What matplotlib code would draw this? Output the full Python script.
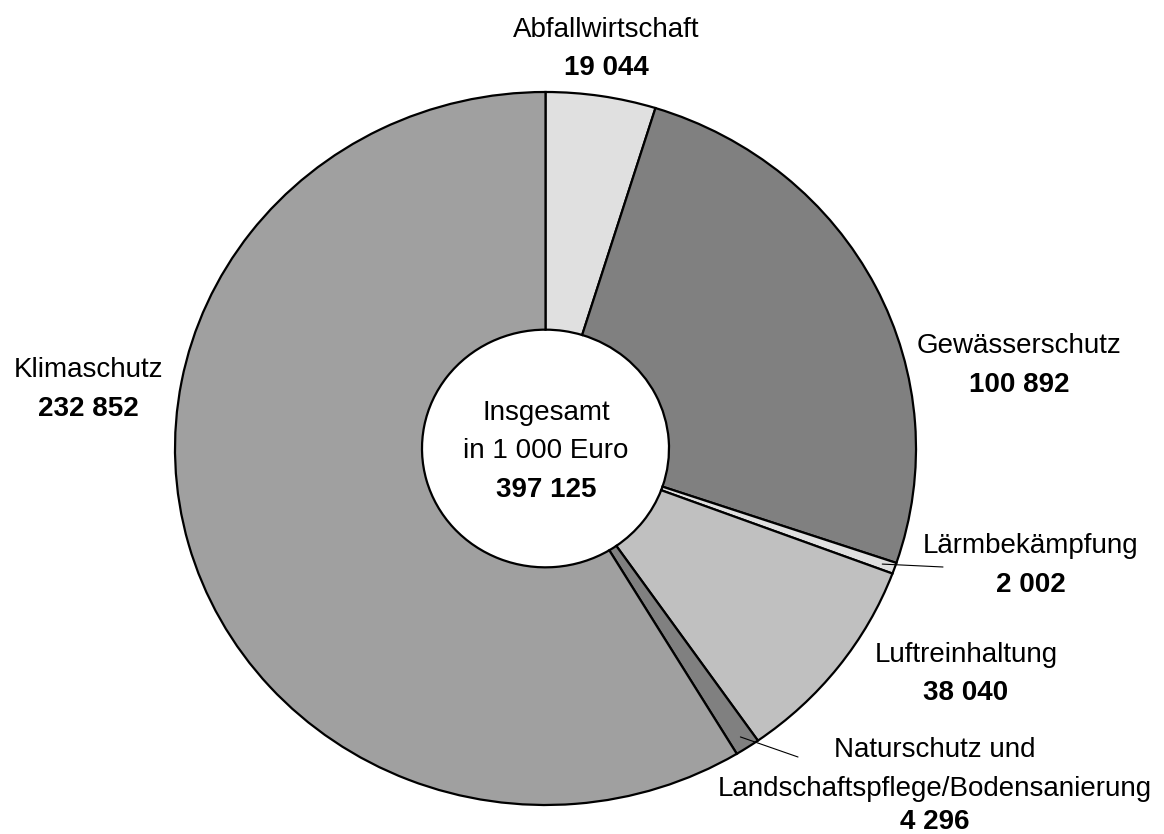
import matplotlib
matplotlib.use("Agg")
import matplotlib.pyplot as plt
import numpy as np

# ---- data ----
categories = ["Abfallwirtschaft", "Gewässerschutz", "Lärmbekämpfung",
              "Luftreinhaltung", "Naturschutz und\nLandschaftspflege/Bodensanierung",
              "Klimaschutz"]
values = [19044, 100892, 2002, 38040, 4296, 232852]
value_labels = ["19 044", "100 892", "2 002", "38 040", "4 296", "232 852"]
colors = ["#e0e0e0", "#808080", "#e0e0e0", "#c0c0c0", "#808080", "#a0a0a0"]
total_label = ["Insgesamt", "in 1 000 Euro", "397 125"]

W, H = 1164, 834
FONT = "Liberation Sans"
FS = 20

fig = plt.figure(figsize=(W / 100, H / 100), dpi=100)
fig.patch.set_facecolor("white")

# ellipse bounding box in pixels
ex0, ex1, ey0, ey1 = 175, 916, 92, 805
ax = fig.add_axes([ex0 / W, (H - ey1) / H, (ex1 - ex0) / W, (ey1 - ey0) / H])
wedges, _ = ax.pie(values, colors=colors, startangle=90, counterclock=False,
                   radius=1.0,
                   wedgeprops=dict(width=2 / 3, edgecolor="black", linewidth=1.6))
ax.set_aspect("auto")
ax.set_xlim(-1, 1)
ax.set_ylim(-1, 1)
ax.axis("off")

# overlay axes in pixel coordinates for labels
ov = fig.add_axes([0, 0, 1, 1], zorder=5)
ov.set_xlim(0, W)
ov.set_ylim(H, 0)
ov.axis("off")
ov.patch.set_alpha(0)


def lbl(x, y, name_lines, val):
    yy = y
    for line in name_lines:
        ov.text(x, yy, line, ha="center", va="baseline", fontsize=FS,
                family=FONT, color="black")
        yy += 38.5
    ov.text(x, yy, val, ha="center", va="baseline", fontsize=FS,
            family=FONT, fontweight="bold", color="black")


label_pos = [(606, 36.5), (1019, 353), (1031, 553), (966, 662), (935, 757), (88, 377)]
for cat, val, (x, y) in zip(categories, value_labels, label_pos):
    lines = cat.split("\n")
    if len(lines) == 2:
        ov.text(x, y, lines[0], ha="center", va="baseline", fontsize=FS,
                family=FONT, color="black")
        ov.text(x, y + 39, lines[1], ha="center", va="baseline", fontsize=FS,
                family=FONT, color="black")
        ov.text(x, y + 72, val, ha="center", va="baseline", fontsize=FS,
                family=FONT, fontweight="bold", color="black")
    else:
        lbl(x, y, lines, val)

# centre text
ov.text(546, 420, total_label[0], ha="center", va="baseline", fontsize=FS,
        family=FONT)
ov.text(546, 458, total_label[1], ha="center", va="baseline", fontsize=FS,
        family=FONT)
ov.text(546, 497, total_label[2], ha="center", va="baseline", fontsize=FS,
        family=FONT, fontweight="bold")

# leader lines from wedge middles
cum = np.cumsum([0] + values)
tot = cum[-1]


def wedge_point(i, r):
    mid = (cum[i] + cum[i + 1]) / 2 / tot
    ang = np.deg2rad(90 - 360 * mid)
    return r * np.cos(ang), r * np.sin(ang)


for i, end in [(2, (943, 567)), (4, (798, 757))]:
    xy = wedge_point(i, 0.965)
    ax.annotate("", xy=xy, xycoords="data", xytext=end, textcoords=ov.transData,
                arrowprops=dict(arrowstyle="-", lw=0.8, color="black",
                                shrinkA=0, shrinkB=0),
                annotation_clip=False)

fig.savefig("out.png", dpi=100, facecolor="white")
